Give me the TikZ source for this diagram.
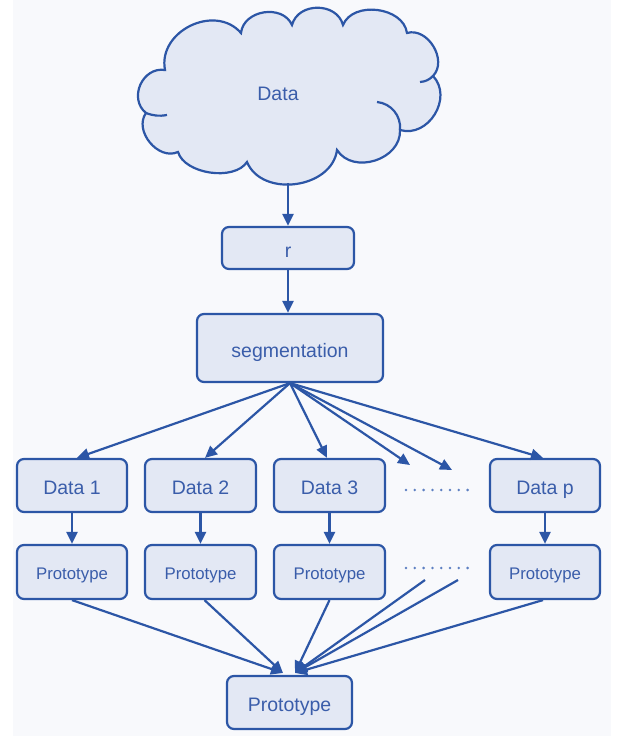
\documentclass[tikz,border=0pt]{standalone}
\usepackage{fontspec}
\setmainfont{Liberation Sans}
\usetikzlibrary{arrows.meta}
\definecolor{ln}{HTML}{2C56A6}
\definecolor{bx}{HTML}{E3E8F4}
\definecolor{tx}{HTML}{3A5DAA}
\definecolor{bg}{HTML}{F8F9FC}
\definecolor{dt}{HTML}{5E80C2}
\begin{document}
\begin{tikzpicture}[x=1pt,y=1pt,
  box/.style={draw=ln,fill=bx,line width=2.2pt,rounded corners=7pt,text=tx,inner sep=0pt,
    font=\fontsize{19.5}{22}\selectfont,text height=18.5pt,text depth=0pt},
  small/.style={font=\fontsize{16.8}{19}\selectfont,text height=15.5pt},
  arr/.style={draw=ln,line width=2.2pt,-{Triangle[length=12pt,width=11pt]}},
  cloudline/.style={draw=ln,line width=2.2pt}]
\useasboundingbox (0,0) rectangle (622,736);
\fill[white] (0,0) rectangle (622,736);
\fill[bg] (13,0) rectangle (611,736);
% cloud
\draw[cloudline,fill=bx]
  (165,666) to[bend left=75,looseness=1.2] (241,703)
  to[bend left=75,looseness=1.15] (292,711)
  to[bend left=75,looseness=1.2] (343,711)
  to[bend left=75,looseness=1.05] (407,703)
  to[bend left=75,looseness=1.1] (433,660)
  to[bend left=75,looseness=1.2] (400,606)
  to[bend left=75,looseness=1.15] (337,586)
  to[bend left=75,looseness=1.1] (247,574)
  to[bend left=65,looseness=0.85] (178,584)
  to[bend left=75,looseness=1.1] (146,623)
  to[bend left=75,looseness=1.25] cycle;
\draw[cloudline] (377,634) to[bend left=45] (400,606);
\draw[cloudline] (146,623) to[bend right=15] (167,621);
\draw[cloudline] (420,654) to[bend right=20] (433,660);
\node[text=tx,font=\fontsize{19.5}{22}\selectfont] (cl) at (278,642) {Data};
\coordinate (cb) at (288,553);
% boxes
\node[box,minimum width=132pt,minimum height=42pt] (r) at (288,488) {r};
\node[box,minimum width=186pt,minimum height=68pt] (seg) at (290,388) {segmentation};
\node[box,minimum width=110pt,minimum height=53pt] (d1) at (72,250.5) {Data 1};
\node[box,minimum width=111pt,minimum height=53pt] (d2) at (200.5,250.5) {Data 2};
\node[box,minimum width=111pt,minimum height=53pt] (d3) at (329.5,250.5) {Data 3};
\node[box,minimum width=110pt,minimum height=53pt] (dp) at (545,250.5) {Data p};
\node[box,small,minimum width=110pt,minimum height=54pt] (p1) at (72,164) {Prototype};
\node[box,small,minimum width=111pt,minimum height=54pt] (p2) at (200.5,164) {Prototype};
\node[box,small,minimum width=111pt,minimum height=54pt] (p3) at (329.5,164) {Prototype};
\node[box,small,minimum width=110pt,minimum height=54pt] (pp) at (545,164) {Prototype};
\node[box,minimum width=125pt,minimum height=53pt] (f) at (289.5,33.5) {Prototype};
% dots
\foreach \i in {0,...,7} {
  \fill[dt] (406+\i*8.8,246) circle (1.4);
  \fill[dt] (406+\i*8.8,168) circle (1.4);
}
\coordinate (e1) at (410,271);
\coordinate (e2) at (452,266);
\coordinate (s1) at (425,156);
\coordinate (s2) at (458,156);
\coordinate (tl) at (283,63);
\coordinate (tr) at (295,63);
% connectors
\draw[arr] (cb) -- (cb |- r.north);
\draw[arr] (r.south) -- (r.south |- seg.north);
\draw[arr] (seg.south) -- ([xshift=5pt]d1.north);
\draw[arr] (seg.south) -- ([xshift=4.5pt]d2.north);
\draw[arr] (seg.south) -- ([xshift=-2.5pt]d3.north);
\draw[arr] (seg.south) -- (e1);
\draw[arr] (seg.south) -- (e2);
\draw[arr] (seg.south) -- ([xshift=-2pt]dp.north);
\draw[arr] (d1.south) -- (p1.north);
\draw[arr] (d2.south) -- (p2.north);
\draw[arr] (d3.south) -- (p3.north);
\draw[arr] (dp.south) -- (pp.north);
\draw[arr] (p1.south) -- (tl);
\draw[arr] ([xshift=4pt]p2.south) -- (tl);
\draw[arr] (p3.south) -- (tr);
\draw[arr] (s1) -- (tr);
\draw[arr] (s2) -- (tr);
\draw[arr] ([xshift=-2pt]pp.south) -- (tr);
\end{tikzpicture}
\end{document}
